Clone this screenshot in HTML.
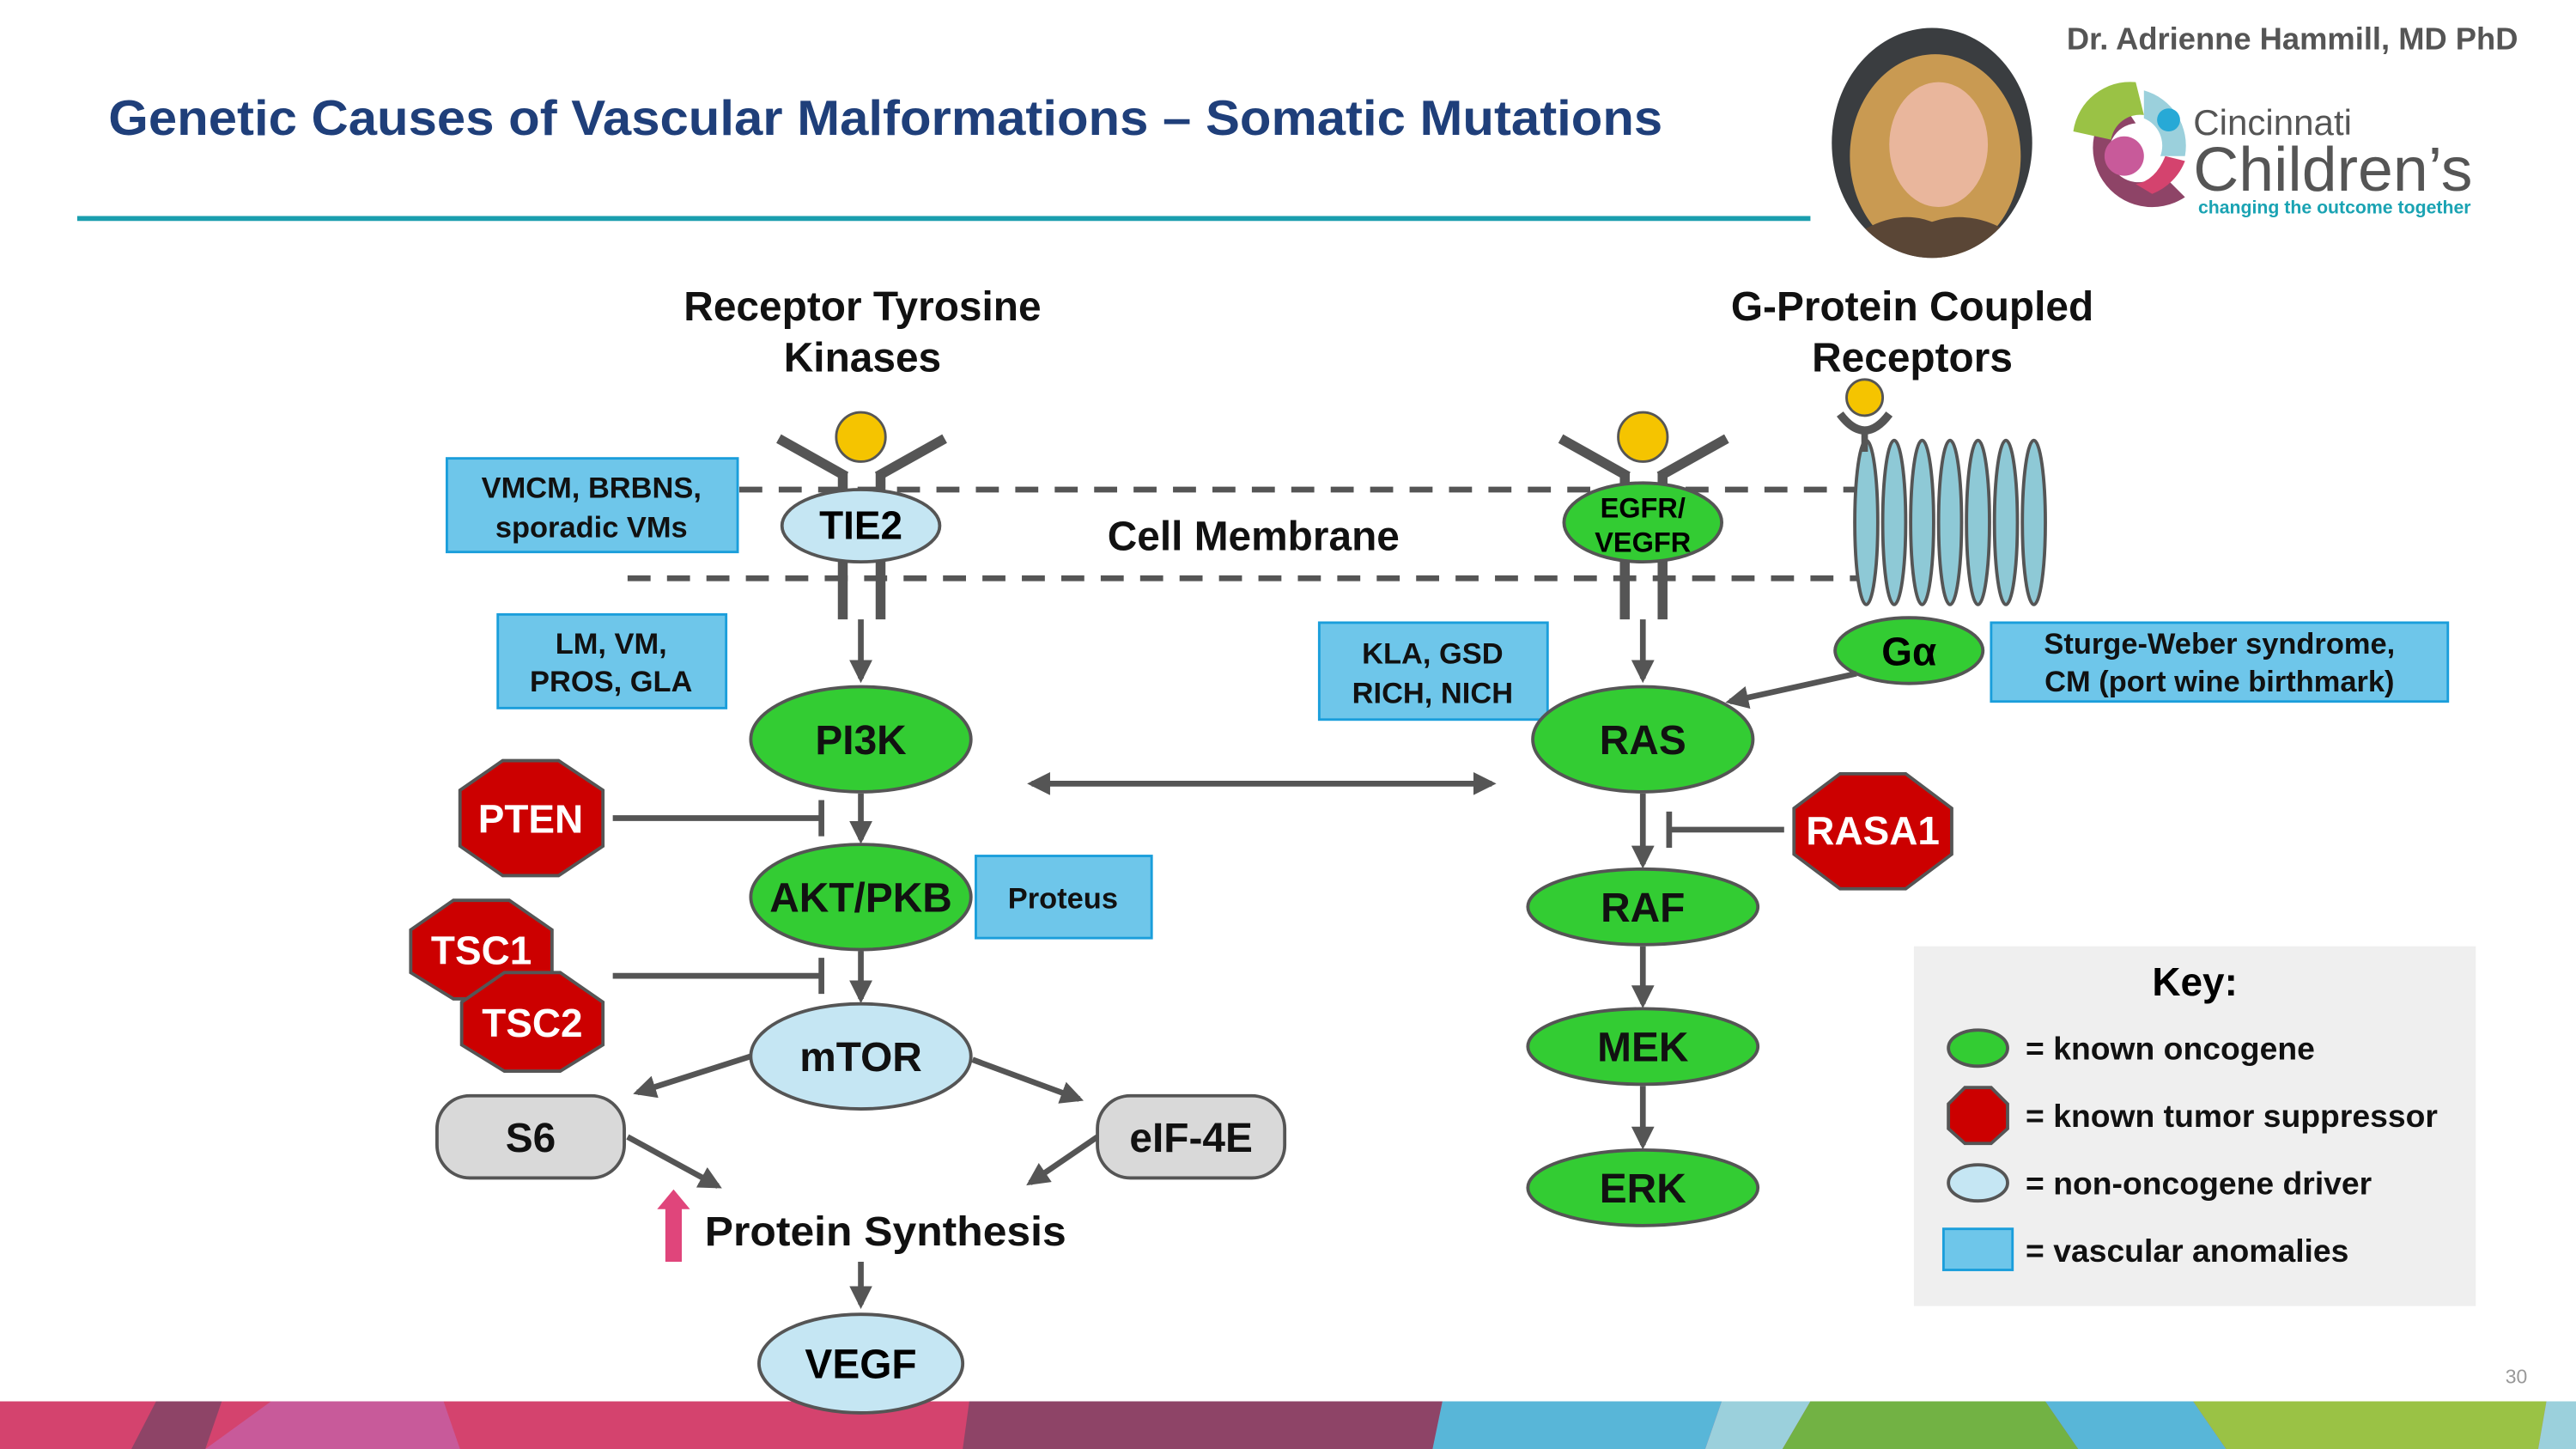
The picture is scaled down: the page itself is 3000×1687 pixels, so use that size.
<!DOCTYPE html>
<html><head><meta charset="utf-8"><style>
html,body{margin:0;padding:0;background:#fff}
svg{display:block}
text{font-family:"Liberation Sans",Arial,sans-serif}
</style></head><body>
<svg width="3000" height="1687" viewBox="0 0 1568 882" preserveAspectRatio="none" xmlns="http://www.w3.org/2000/svg">
<defs>
<marker id="ah" viewBox="0 0 10 10" refX="8" refY="5" markerWidth="4" markerHeight="4" orient="auto-start-reverse"><path d="M0,0 L10,5 L0,10 z" fill="#555"/></marker>
<clipPath id="ph"><ellipse cx="1176" cy="87" rx="61" ry="70"/></clipPath>
</defs>
<rect width="1568" height="882" fill="#fff"/>
<!-- title -->
<text x="66" y="82" font-size="30" font-weight="bold" fill="#1f3f7a" textLength="946" lengthAdjust="spacingAndGlyphs">Genetic Causes of Vascular Malformations – Somatic Mutations</text>
<line x1="47" y1="133" x2="1102" y2="133" stroke="#1a9eae" stroke-width="3"/>
<!-- photo -->
<g clip-path="url(#ph)">
<rect x="1110" y="15" width="135" height="145" fill="#3a3d40"/>
<ellipse cx="1178" cy="95" rx="52" ry="62" fill="#c99a52"/>
<ellipse cx="1180" cy="88" rx="30" ry="38" fill="#e9b69c"/>
<path d="M1120,150 Q1150,125 1176,135 Q1205,125 1235,150 L1235,160 L1120,160z" fill="#5a4636"/>
</g>
<!-- header right -->
<text x="1258" y="30" font-size="19" font-weight="bold" fill="#555">Dr. Adrienne Hammill, MD PhD</text>
<path d="M1290,60 A35,35 0 1 0 1330,120 L1315,105 A18,18 0 1 1 1300,75 Z" fill="#8e4467"/>
<path d="M1262,80 A35,35 0 0 1 1300,50 L1305,70 A18,18 0 0 0 1285,85Z" fill="#9ac245"/>
<path d="M1305,55 A35,35 0 0 1 1330,95 L1315,95 A18,18 0 0 0 1305,72Z" fill="#9bd0dc"/>
<circle cx="1320" cy="73" r="7" fill="#27a9d6"/>
<circle cx="1293" cy="95" r="12" fill="#c85a9a"/>
<path d="M1310,118 A35,35 0 0 0 1330,98 L1318,95 Q1312,110 1300,112Z" fill="#d4436e"/>
<text x="1335" y="82" font-size="22" fill="#555">Cincinnati</text>
<text x="1335" y="116" font-size="38" fill="#555" textLength="170" lengthAdjust="spacingAndGlyphs">Children’s</text>
<text x="1338" y="130" font-size="11" font-weight="bold" fill="#1aa3b3" textLength="166" lengthAdjust="spacingAndGlyphs">changing the outcome together</text>
<!-- headings -->
<g font-size="25" font-weight="bold" fill="#111" text-anchor="middle">
<text x="525" y="195">Receptor Tyrosine</text><text x="525" y="226">Kinases</text>
<text x="1164" y="195">G-Protein Coupled</text><text x="1164" y="226">Receptors</text>
<text x="763" y="335">Cell Membrane</text>
</g>
<!-- membrane -->
<g stroke="#555" stroke-width="3.5" stroke-dasharray="14 10">
<line x1="450" y1="298" x2="1135" y2="298"/>
<line x1="382" y1="352" x2="1135" y2="352"/>
</g>
<!-- receptors -->
<g stroke="#555" stroke-width="6">
<line x1="474" y1="267" x2="515" y2="290"/><line x1="575" y1="267" x2="534" y2="290"/>
<line x1="513" y1="288" x2="513" y2="300"/><line x1="536" y1="288" x2="536" y2="300"/>
<line x1="513" y1="340" x2="513" y2="377"/><line x1="536" y1="340" x2="536" y2="377"/>
<line x1="950" y1="267" x2="991" y2="290"/><line x1="1051" y1="267" x2="1010" y2="290"/>
<line x1="989" y1="288" x2="989" y2="300"/><line x1="1012" y1="288" x2="1012" y2="300"/>
<line x1="989" y1="340" x2="989" y2="377"/><line x1="1012" y1="340" x2="1012" y2="377"/>
</g>
<circle cx="524" cy="266" r="15" fill="#f5c400" stroke="#555" stroke-width="1.5"/>
<circle cx="1000" cy="266" r="15" fill="#f5c400" stroke="#555" stroke-width="1.5"/>
<ellipse cx="524" cy="320" rx="48" ry="22" fill="#c5e6f3" stroke="#555" stroke-width="2"/>
<text x="524" y="328" font-size="24" font-weight="bold" text-anchor="middle">TIE2</text>
<ellipse cx="1000" cy="318" rx="48" ry="24" fill="#33cc33" stroke="#555" stroke-width="2"/>
<text x="1000" y="315" font-size="17" font-weight="bold" text-anchor="middle">EGFR/</text>
<text x="1000" y="336" font-size="17" font-weight="bold" text-anchor="middle">VEGFR</text>
<!-- GPCR -->
<g fill="#8ec9d6" stroke="#555" stroke-width="2">
<ellipse cx="1136" cy="318" rx="7" ry="50"/><ellipse cx="1153" cy="318" rx="7" ry="50"/><ellipse cx="1170" cy="318" rx="7" ry="50"/><ellipse cx="1187" cy="318" rx="7" ry="50"/><ellipse cx="1204" cy="318" rx="7" ry="50"/><ellipse cx="1221" cy="318" rx="7" ry="50"/><ellipse cx="1238" cy="318" rx="7" ry="50"/>
</g>
<path d="M1120,252 Q1135,272 1150,252" fill="none" stroke="#555" stroke-width="5"/>
<line x1="1135" y1="264" x2="1135" y2="275" stroke="#555" stroke-width="4"/>
<circle cx="1135" cy="242" r="11" fill="#f5c400" stroke="#555" stroke-width="1.5"/>
<ellipse cx="1162" cy="396" rx="45" ry="20" fill="#33cc33" stroke="#555" stroke-width="2"/>
<text x="1162" y="405" font-size="24" font-weight="bold" text-anchor="middle">Gα</text>
<!-- blue boxes -->
<g fill="#6ec6ea" stroke="#1a9edb" stroke-width="1.5">
<rect x="272" y="279" width="177" height="57"/><rect x="303" y="374" width="139" height="57"/>
<rect x="803" y="379" width="139" height="59"/><rect x="1212" y="379" width="278" height="48"/>
<rect x="594" y="521" width="107" height="50"/>
</g>
<g font-size="18" font-weight="bold" text-anchor="middle" fill="#111">
<text x="360" y="303">VMCM, BRBNS,</text><text x="360" y="327">sporadic VMs</text>
<text x="372" y="398">LM, VM,</text><text x="372" y="421">PROS, GLA</text>
<text x="872" y="404">KLA, GSD</text><text x="872" y="428">RICH, NICH</text>
<text x="1351" y="398">Sturge-Weber syndrome,</text><text x="1351" y="421">CM (port wine birthmark)</text>
<text x="647" y="553">Proteus</text>
</g>
<!-- connectors -->
<g stroke="#555" stroke-width="3.5" fill="none">
<line x1="524" y1="377" x2="524" y2="413" marker-end="url(#ah)"/>
<line x1="1000" y1="377" x2="1000" y2="413" marker-end="url(#ah)"/>
<line x1="1130" y1="410" x2="1053" y2="427" marker-end="url(#ah)"/>
<line x1="524" y1="483" x2="524" y2="511" marker-end="url(#ah)"/>
<line x1="524" y1="579" x2="524" y2="608" marker-end="url(#ah)"/>
<line x1="373" y1="498" x2="500" y2="498"/><line x1="500" y1="487" x2="500" y2="509"/>
<line x1="373" y1="594" x2="500" y2="594"/><line x1="500" y1="583" x2="500" y2="605"/>
<line x1="628" y1="477" x2="908" y2="477" marker-start="url(#ah)" marker-end="url(#ah)"/>
<line x1="1000" y1="483" x2="1000" y2="526" marker-end="url(#ah)"/>
<line x1="1086" y1="505" x2="1016" y2="505"/><line x1="1016" y1="494" x2="1016" y2="516"/>
<line x1="1000" y1="576" x2="1000" y2="611" marker-end="url(#ah)"/>
<line x1="1000" y1="661" x2="1000" y2="697" marker-end="url(#ah)"/>
<line x1="457" y1="643" x2="388" y2="665" marker-end="url(#ah)"/>
<line x1="592" y1="645" x2="657" y2="669" marker-end="url(#ah)"/>
<line x1="382" y1="692" x2="437" y2="722" marker-end="url(#ah)"/>
<line x1="668" y1="692" x2="627" y2="720" marker-end="url(#ah)"/>
<line x1="524" y1="768" x2="524" y2="794" marker-end="url(#ah)"/>
</g>
<!-- nodes -->
<g stroke="#555" stroke-width="2">
<ellipse cx="524" cy="450" rx="67" ry="32" fill="#33cc33"/>
<ellipse cx="524" cy="546" rx="67" ry="32" fill="#33cc33"/>
<ellipse cx="524" cy="643" rx="67" ry="32" fill="#c5e6f3"/>
<ellipse cx="1000" cy="450" rx="67" ry="32" fill="#33cc33"/>
<ellipse cx="1000" cy="552" rx="70" ry="23" fill="#33cc33"/>
<ellipse cx="1000" cy="637" rx="70" ry="23" fill="#33cc33"/>
<ellipse cx="1000" cy="723" rx="70" ry="23" fill="#33cc33"/>
<rect x="266" y="667" width="114" height="50" rx="20" fill="#d9d9d9"/>
<rect x="668" y="667" width="114" height="50" rx="20" fill="#d9d9d9"/>
<polygon points="306,463 340,463 367,481 367,515 340,533 306,533 280,515 280,481" fill="#cc0000"/>
<polygon points="276,548 310,548 336,566 336,592 310,608 276,608 250,592 250,566" fill="#cc0000"/>
<polygon points="307,592 341,592 367,610 367,636 341,652 307,652 281,636 281,610" fill="#cc0000"/>
<polygon points="1120,471 1160,471 1188,492 1188,520 1160,541 1120,541 1092,520 1092,492" fill="#cc0000"/>
</g>
<g font-size="25" font-weight="bold" text-anchor="middle" fill="#111">
<text x="524" y="459">PI3K</text><text x="524" y="555">AKT/PKB</text><text x="524" y="652">mTOR</text>
<text x="1000" y="459">RAS</text><text x="1000" y="561">RAF</text>
<text x="1000" y="646">MEK</text><text x="1000" y="732">ERK</text>
<text x="323" y="701">S6</text><text x="725" y="701">eIF-4E</text>
</g>
<g font-size="24" font-weight="bold" text-anchor="middle" fill="#fff">
<text x="323" y="507">PTEN</text><text x="293" y="587">TSC1</text><text x="324" y="631">TSC2</text><text x="1140" y="514">RASA1</text>
</g>
<!-- protein synthesis -->
<path d="M410,724 L420,736 L415,736 L415,768 L405,768 L405,736 L400,736 Z" fill="#e0457b"/>
<text x="429" y="758" font-size="25" font-weight="bold" fill="#111" textLength="220" lengthAdjust="spacingAndGlyphs">Protein Synthesis</text>
<!-- key -->
<rect x="1165" y="576" width="342" height="219" fill="#efefef"/>
<text x="1336" y="606" font-size="24" font-weight="bold" text-anchor="middle">Key:</text>
<ellipse cx="1204" cy="638" rx="18" ry="11" fill="#33cc33" stroke="#555" stroke-width="2"/>
<polygon points="1196,662 1212,662 1222,672 1222,687 1212,696 1196,696 1186,687 1186,672" fill="#cc0000" stroke="#555" stroke-width="2"/>
<ellipse cx="1204" cy="720" rx="18" ry="11" fill="#c5e6f3" stroke="#555" stroke-width="2"/>
<rect x="1183" y="748" width="42" height="25" fill="#6ec6ea" stroke="#1a9edb" stroke-width="1.5"/>
<g font-size="19.5" font-weight="bold" fill="#111">
<text x="1233" y="645">= known oncogene</text><text x="1233" y="686">= known tumor suppressor</text>
<text x="1233" y="727">= non-oncogene driver</text><text x="1233" y="768">= vascular anomalies</text>
</g>
<text x="1525" y="842" font-size="12" fill="#999">30</text>
<!-- bottom strip -->
<g>
<rect x="0" y="853" width="1568" height="29" fill="#d4436e"/>
<polygon points="95,853 135,853 125,882 80,882" fill="#8e4467"/>
<polygon points="165,853 270,853 280,882 125,882" fill="#c85a9a"/>
<polygon points="590,853 878,853 872,882 586,882" fill="#8e4467"/>
<polygon points="878,853 1048,853 1038,882 872,882" fill="#58b6d8"/>
<polygon points="1048,853 1102,853 1085,882 1038,882" fill="#9bd0dc"/>
<polygon points="1102,853 1245,853 1265,882 1085,882" fill="#72b244"/>
<polygon points="1245,853 1335,853 1355,882 1265,882" fill="#58b6d8"/>
<polygon points="1335,853 1550,853 1545,882 1355,882" fill="#9ac245"/>
<polygon points="1550,853 1568,853 1568,882 1545,882" fill="#9bd0dc"/>
</g>
<ellipse cx="524" cy="830" rx="62" ry="30" fill="#c5e6f3" stroke="#555" stroke-width="2"/>
<text x="524" y="839" font-size="25" font-weight="bold" text-anchor="middle">VEGF</text>
</svg>
</body></html>
